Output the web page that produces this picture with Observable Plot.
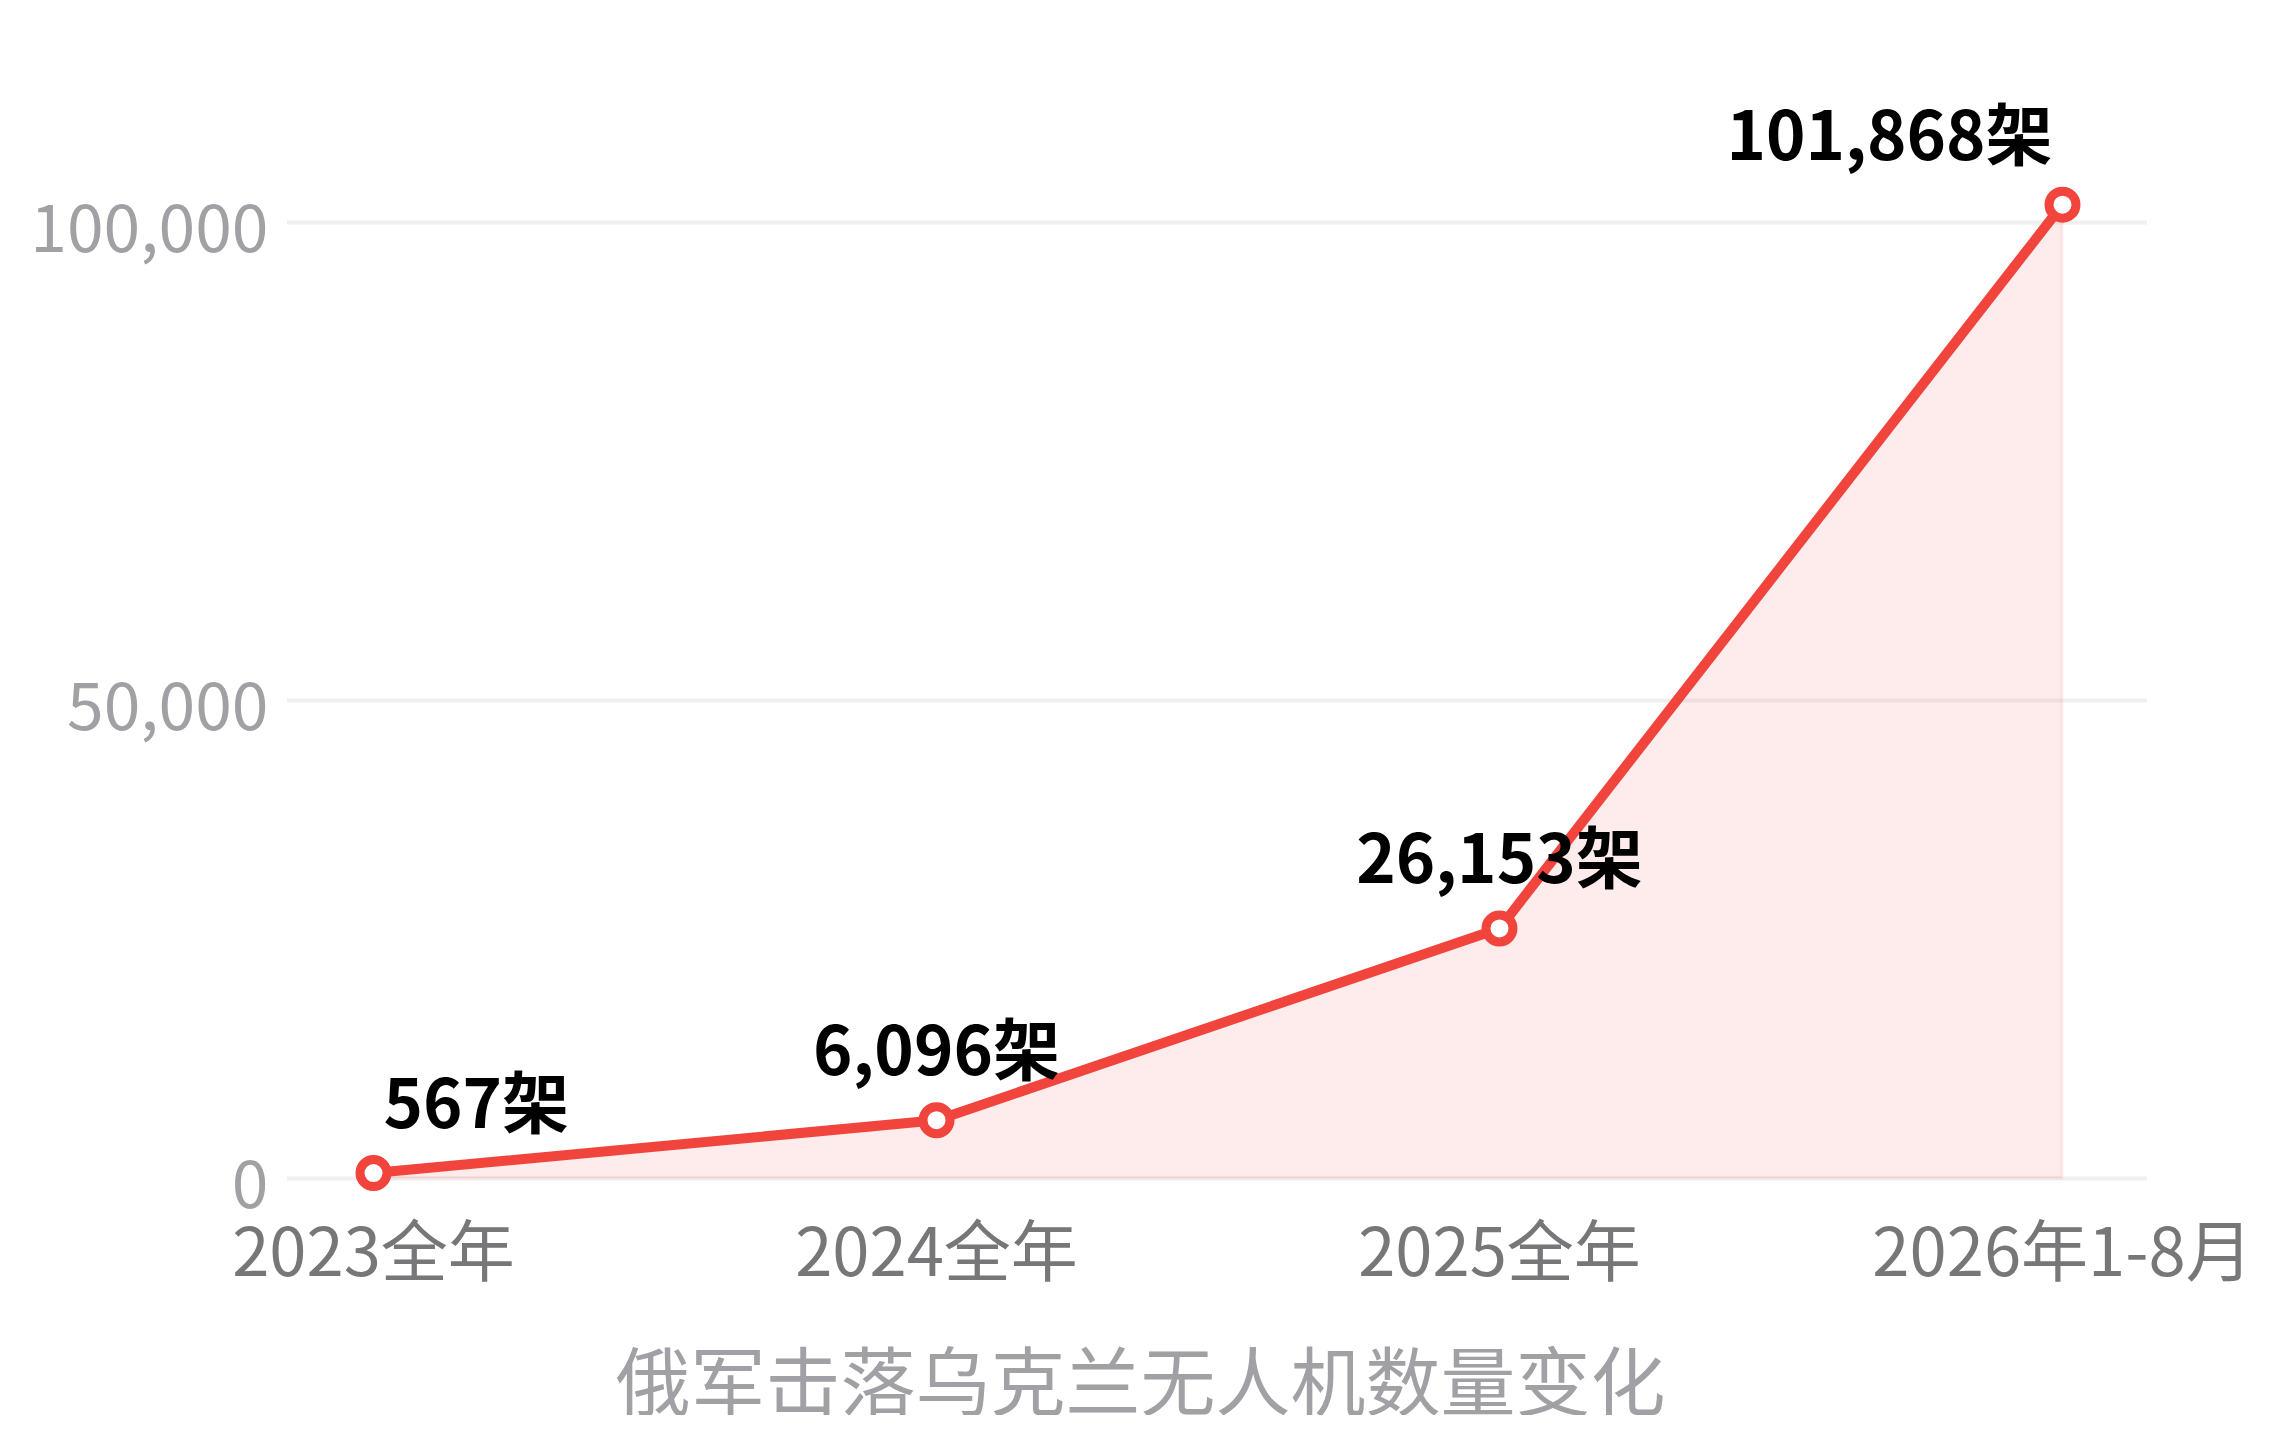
<!DOCTYPE html>
<html>
<head>
<meta charset="utf-8">
<script src="https://cdn.jsdelivr.net/npm/d3@7"></script>
<script src="https://cdn.jsdelivr.net/npm/@observablehq/plot@0.6"></script>
<style>
  html, body { margin: 0; padding: 0; background: #ffffff; }
  #chart svg { display: block; }
  #title {
    font-family: "Noto Sans CJK SC", sans-serif;
    font-size: 75px;
    line-height: 75px;
    color: #a0a0a5;
    text-align: center;
    margin-top: 40px;
    width: 2281px;
  }
</style>
</head>
<body>
<div id="chart"></div>
<div id="title">俄军击落乌克兰无人机数量变化</div>
<script>
const categories = ["2023全年", "2024全年", "2025全年", "2026年1-8月"];
const values = [567, 6096, 26153, 101868];
const valueLabels = ["567架", "6,096架", "26,153架", "101,868架"];
const yTicks = [0, 50000, 100000];

const data = categories.map((c, i) => ({cat: c, value: values[i], label: valueLabels[i]}));
const RED = "#f0443c";
const n = data.length;

const labelStyle = {
  x: "cat", y: "value", text: "label",
  lineAnchor: "bottom", dy: -45,
  fontSize: 67, fontWeight: "bold", fill: "#000000"
};

const chart = Plot.plot({
  width: 2281,
  height: 1300,
  marginLeft: 287,
  marginRight: 134,
  marginTop: 222,
  marginBottom: 122,
  style: {fontFamily: "'Noto Sans CJK SC', sans-serif", background: "#ffffff"},
  x: {type: "point", domain: categories, padding: 0.15, label: null},
  y: {domain: [0, 100000], label: null},
  marks: [
    Plot.ruleY(yTicks, {stroke: "#f0f0f0", strokeWidth: 4}),
    Plot.areaY(data, {x: "cat", y: "value", fill: RED, fillOpacity: 0.1, stroke: RED, strokeOpacity: 0.08, strokeWidth: 3}),
    Plot.lineY(data, {x: "cat", y: "value", stroke: RED, strokeWidth: 10}),
    Plot.dot(data, {x: "cat", y: "value", r: 13.5, fill: "#ffffff", stroke: RED, strokeWidth: 9}),
    Plot.text(data, {...labelStyle, filter: (d, i) => i === 0, textAnchor: "start", dx: 10}),
    Plot.text(data, {...labelStyle, filter: (d, i) => i > 0 && i < n - 1, textAnchor: "middle"}),
    Plot.text(data, {...labelStyle, filter: (d, i) => i === n - 1, textAnchor: "end", dx: -10}),
    Plot.axisY(yTicks, {tickSize: 0, tickPadding: 19, fontSize: 66, fill: "#a0a0a5", dy: 8, tickFormat: d3.format(","), label: null}),
    Plot.axisX({tickSize: 0, tickPadding: 50, fontSize: 67, fill: "#77777a", label: null})
  ]
});
document.getElementById("chart").appendChild(chart);
</script>
</body>
</html>
